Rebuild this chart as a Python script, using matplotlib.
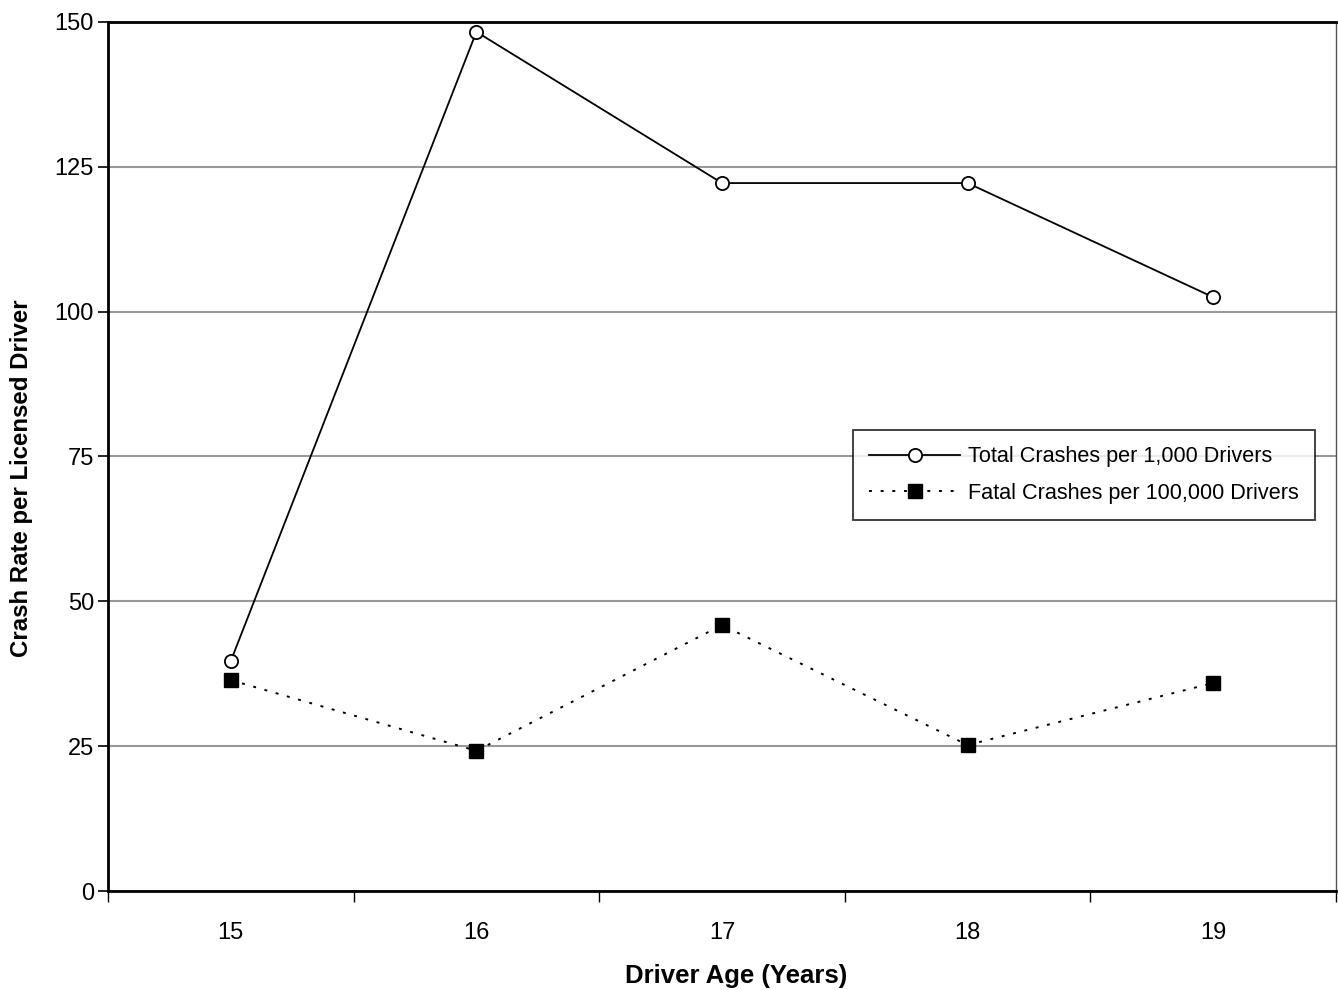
import numpy as np
import matplotlib.pyplot as plt

plt.rcParams['font.family'] = ['Liberation Sans', 'DejaVu Sans']

ages = ['15', '16', '17', '18', '19']
total_crashes = [39.7, 148.3, 122.2, 122.2, 102.5]
fatal_crashes = [36.4, 24.2, 45.9, 25.2, 35.9]
y_ticks = [0, 25, 50, 75, 100, 125, 150]

x = np.arange(len(ages))

fig = plt.figure(figsize=(13.38, 9.9), dpi=100)
ax = fig.add_axes([108 / 1338, 1 - 891 / 990, (1336 - 108) / 1338, (891 - 22) / 990])

ax.plot(x, total_crashes, '-', color='black', lw=1.3, marker='o', ms=9.5,
        mfc='white', mec='black', mew=1.3, label='Total Crashes per 1,000 Drivers')
ax.plot(x, fatal_crashes, color='black', lw=1.4, ls=(0, (1.5, 4.5)), marker='s', ms=9.5,
        mfc='black', mec='black', label='Fatal Crashes per 100,000 Drivers')

ax.set_xlim(-0.5, len(ages) - 0.5)
ax.set_ylim(0, 150)
ax.set_yticks(y_ticks)
ax.yaxis.grid(True, color='#999999', lw=1.5)
ax.set_axisbelow(True)

ax.set_xticks(x)
ax.set_xticklabels(ages)
ax.set_xticks(np.arange(-0.5, len(ages)), minor=True)
ax.tick_params(axis='x', which='major', length=0, pad=22, labelsize=17)
ax.tick_params(axis='x', which='minor', length=8, width=1, direction='out')
ax.tick_params(axis='y', length=7, width=1.2, direction='out', labelsize=17, pad=3)

for side in ['left', 'bottom', 'top']:
    ax.spines[side].set_linewidth(2)
ax.spines['right'].set_linewidth(1)
ax.spines['right'].set_color('#555555')

ax.set_xlabel('Driver Age (Years)', fontsize=18.5, fontweight='bold')
ax.set_ylabel('Crash Rate per Licensed Driver', fontsize=17.3, fontweight='bold')
ax.xaxis.set_label_coords((736 - 108) / 1228, -(976 - 891) / 869)
ax.yaxis.set_label_coords(-(108 - 22) / 1228, 1 - (478 - 22) / 869)
ax.xaxis.label.set_va('center')
ax.yaxis.label.set_va('center')

leg = ax.legend(loc='upper left', bbox_to_anchor=((853 - 108) / 1228, 1 - (430 - 22) / 869),
                fontsize=15.6, frameon=True, fancybox=False, edgecolor='black',
                borderpad=0.75, labelspacing=0.72, handlelength=4.2, handletextpad=0.35,
                borderaxespad=0)
leg.get_frame().set_linewidth(1.3)

fig.savefig('out.png', dpi=100)
